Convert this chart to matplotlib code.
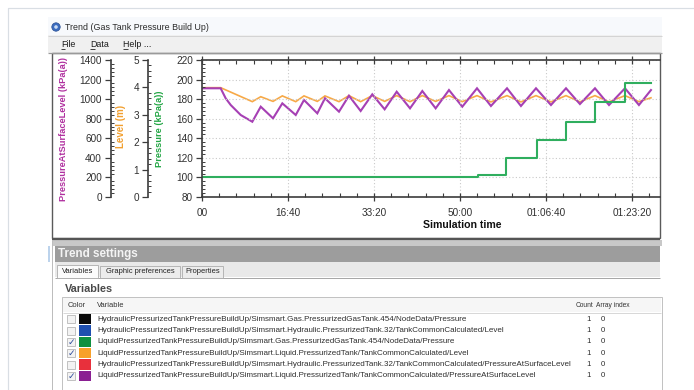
import matplotlib
matplotlib.use('Agg')
import matplotlib.pyplot as plt
from matplotlib.patches import Rectangle, Circle
from matplotlib.ticker import MultipleLocator

plt.rcParams['font.family'] = ['Liberation Sans', 'DejaVu Sans']

# ---------------- data ----------------
time_ticks = [0, 1000, 2000, 3000, 4000, 5000]
time_labels = ['00', '16:40', '33:20', '50:00', '01:06:40', '01:23:20']

# PressureAtSurfaceLevel (kPa(a)) - purple
t_psl = [0, 217, 275, 334, 450, 585, 683, 826, 934, 1090, 1186, 1341, 1430, 1593, 1709, 1845,
         1980, 2124, 2264, 2419, 2562, 2717, 2872, 3027, 3198, 3360, 3547, 3709, 3884, 4058,
         4233, 4395, 4570, 4733, 4919, 5081, 5221]
psl = [1111, 1111, 1009, 940, 838, 769, 923, 804, 957, 838, 991, 855, 1009, 872, 1035, 879,
       1049, 896, 1076, 906, 1083, 906, 1093, 923, 1111, 930, 1111, 930, 1111, 940,
       1111, 950, 1111, 940, 1111, 940, 1093]

# Level (m) - orange
t_lvl = [0, 217, 585, 683, 826, 934, 1090, 1186, 1341, 1430, 1593, 1709, 1845,
         1980, 2124, 2264, 2419, 2562, 2717, 2872, 3027, 3198, 3360, 3547, 3709, 3884, 4058,
         4233, 4395, 4570, 4733, 4919, 5081, 5221]
lvl = [3.99, 3.99, 3.48, 3.66, 3.49, 3.69, 3.48, 3.69, 3.49, 3.69, 3.48, 3.70, 3.48,
       3.70, 3.49, 3.70, 3.48, 3.70, 3.49, 3.70, 3.48, 3.70, 3.47, 3.70, 3.47, 3.70, 3.47,
       3.70, 3.47, 3.70, 3.47, 3.70, 3.48, 3.62]

# Gas tank pressure (kPa(a)) - green
t_gas = [0, 3209, 3535, 3895, 4233, 4570, 4919, 5221]
p_gas = [100, 102, 120, 138, 157, 177, 197, 197]

var_names = [
    'HydraulicPressurizedTankPressureBuildUp/Simsmart.Gas.PressurizedGasTank.454/NodeData/Pressure',
    'HydraulicPressurizedTankPressureBuildUp/Simsmart.Hydraulic.PressurizedTank.32/TankCommonCalculated/Level',
    'LiquidPressurizedTankPressureBuildUp/Simsmart.Gas.PressurizedGasTank.454/NodeData/Pressure',
    'LiquidPressurizedTankPressureBuildUp/Simsmart.Liquid.PressurizedTank/TankCommonCalculated/Level',
    'HydraulicPressurizedTankPressureBuildUp/Simsmart.Hydraulic.PressurizedTank.32/TankCommonCalculated/PressureAtSurfaceLevel',
    'LiquidPressurizedTankPressureBuildUp/Simsmart.Liquid.PressurizedTank/TankCommonCalculated/PressureAtSurfaceLevel',
]
var_colors = ['#0a0a0a', '#1f4fb0', '#0f9040', '#f7a12a', '#e8303c', '#8a1f92']
var_checked = [False, False, True, True, False, True]
var_count = [1, 1, 1, 1, 1, 1]
var_index = [0, 0, 0, 0, 0, 0]

C_PSL, C_LVL, C_GAS = '#a640b4', '#f7a947', '#2fae5e'
C_PSL_T, C_LVL_T, C_GAS_T = '#b0309f', '#f2a030', '#22a544'

# ---------------- figure ----------------
W, H = 694, 390
fig = plt.figure(figsize=(W / 100, H / 100), dpi=100)
fig.patch.set_facecolor('white')

ui = fig.add_axes([0, 0, 1, 1])
ui.set_xlim(0, W)
ui.set_ylim(H, 0)
ui.axis('off')
ui.set_zorder(0)

PX = 0.72  # points per pixel


def rect(x0, y0, x1, y1, fc, ec='none', lw=0, z=1):
    ui.add_patch(Rectangle((x0, y0), x1 - x0, y1 - y0, facecolor=fc, edgecolor=ec,
                           linewidth=lw * PX, zorder=z))


def line(xs, ys, c, lw=1, z=2):
    ui.plot(xs, ys, color=c, lw=lw * PX, solid_capstyle='butt', zorder=z)


def txt(x, y, s, size, c='#222222', **kw):
    ui.text(x, y, s, fontsize=size, color=c, va='center', **kw)


# outer frame
line([8, 8, W], [H, 8, 8], '#d9dee4', 1.2)

# title bar
rect(48, 17, 662, 35, '#f7f9fc')
ui.add_patch(Circle((56, 27), 4.2, facecolor='#3b6cc0', edgecolor='#2a4f90', lw=0.5, zorder=3))
ui.add_patch(Circle((56, 27), 1.8, facecolor='#c9dcf5', edgecolor='none', zorder=4))
txt(65, 27, 'Trend (Gas Tank Pressure Build Up)', 6.4, '#2a2a2a')

# menu bar
rect(48, 35, 662, 53, '#f0f0f0')
line([48, 662], [35.5, 35.5], '#d4d4d4', 1)
line([48, 662], [52.5, 52.5], '#9a9a9a', 1.2)
for mx, ms, uw in [(61, 'File', 4.2), (90, 'Data', 5.2), (123, 'Help ...', 5.2)]:
    txt(mx, 44.5, ms, 6.4, '#1a1a1a')
    line([mx, mx + uw], [49.3, 49.3], '#1a1a1a', 0.8)

# chart panel
rect(52, 53, 660, 238, 'white', '#5a5a5a', 1.4, z=1)
line([52, 660], [238.5, 238.5], '#555555', 2.2)

# separator + trend settings header
rect(52, 240, 662, 246, '#c8c8c8')
rect(55, 246, 660, 262, '#9d9d9d')
txt(58.5, 254, 'Trend settings', 8.4, '#f4f4f4', fontweight='bold')
rect(55, 262, 660, 277, '#e9e9e9')
line([55, 660], [277.5, 277.5], '#a8a8a8', 1)
rect(48, 246, 50, 262, '#bcd3ec')
line([52, 52], [240, H], '#bdbdbd', 1)

# tabs
for (x0, x1, lab, sel) in [(57, 98, 'Variables', True), (100, 180, 'Graphic preferences', False),
                           (182, 223, 'Properties', False)]:
    rect(x0, 264.5 if sel else 265.5, x1, 277.5, '#fbfbfb' if sel else '#ececec', '#a9a9a9', 0.8, z=3)
    txt((x0 + x1) / 2, 271.5, lab, 5.4, '#222222', ha='center', zorder=4)

txt(65, 289, 'Variables', 7.8, '#4a4a4a', fontweight='bold')

# table
rect(62, 297, 662, H + 2, 'white', '#c2c2c2', 1)
rect(63, 298, 661, 312, '#f6f6f6')
line([63, 661], [312.5, 312.5], '#d8d8d8', 1)
txt(68, 305.5, 'Color', 5.4, '#333333')
txt(97, 305.5, 'Variable', 5.4, '#333333')
txt(576, 305.5, 'Count', 4.8, '#333333')
txt(596, 305.5, 'Array index', 4.8, '#333333')

for i, (name, col, chk, cnt, idx) in enumerate(zip(var_names, var_colors, var_checked,
                                                   var_count, var_index)):
    y0 = 314 + 11.3 * i
    yc = y0 + 5.3
    rect(79.5, y0, 91, y0 + 10.4, col, z=3)
    rect(67, yc - 4, 75, yc + 4, '#f3f3f3', '#b5b5b5', 0.8, z=3)
    if chk:
        ui.text(71, yc + 0.3, '\u2713', fontsize=6.5, color='#2d4c9c', ha='center', va='center',
                family='DejaVu Sans', zorder=5)
    txt(97, yc, name, 5.8, '#2e2e2e')
    txt(589, yc, str(cnt), 5.6, '#2e2e2e', ha='center')
    txt(603, yc, str(idx), 5.6, '#2e2e2e', ha='center')

# ---------------- plot axes ----------------
PX0, PX1, PY0, PY1 = 202, 660, 60, 197


def fbox(x0, y0, x1, y1):
    return [x0 / W, 1 - y1 / H, (x1 - x0) / W, (y1 - y0) / H]


ax = fig.add_axes(fbox(PX0, PY0, PX1, PY1))
ax_psl = ax.twinx()
ax_lvl = ax.twinx()
ax_lvl.set_zorder(1)
ax_psl.set_zorder(2)
ax.set_zorder(3)
for a in (ax, ax_psl, ax_lvl):
    a.patch.set_visible(False)

SPC = '#3c3c3c'
TXC = '#303030'
FS = 7.2

ax.set_xlim(0, 5326)
ax.set_ylim(80, 220)
ax.set_xticks(time_ticks)
ax.set_xticklabels(time_labels)
ax.xaxis.set_minor_locator(MultipleLocator(200))
ax.set_yticks(range(80, 221, 20))
ax.yaxis.set_minor_locator(MultipleLocator(4))
ax.grid(True, which='major', color='#c9c9c9', linestyle=(0, (1, 2)), lw=0.8)
ax.spines['right'].set_visible(False)
for s in ('left', 'bottom', 'top'):
    ax.spines[s].set_color(SPC)
    ax.spines[s].set_linewidth(1.2)
ax.tick_params(axis='x', which='major', direction='inout', length=6, width=0.9, color=SPC,
               top=True, labelsize=FS, labelcolor=TXC, pad=5)
ax.tick_params(axis='x', which='minor', direction='in', length=3, width=0.8, color=SPC, top=True)
ax.tick_params(axis='y', which='major', direction='out', length=4, width=0.9, color=SPC,
               labelsize=FS, labelcolor=TXC, pad=2.5)
ax.tick_params(axis='y', which='minor', direction='in', length=2.5, width=0.7, color=SPC)

for a, frac, lo, hi, step, minor in [(ax_lvl, (148 - PX0) / (PX1 - PX0), 0, 5, 1, 0.2),
                                    (ax_psl, (111 - PX0) / (PX1 - PX0), 0, 1400, 200, 40)]:
    a.set_ylim(lo, hi)
    a.yaxis.tick_left()
    a.yaxis.set_label_position('left')
    a.spines['left'].set_position(('axes', frac))
    a.spines['left'].set_visible(True)
    a.spines['left'].set_color(SPC)
    a.spines['left'].set_linewidth(1.2)
    for s in ('right', 'top', 'bottom'):
        a.spines[s].set_visible(False)
    a.set_yticks([lo + k * step for k in range(int((hi - lo) / step) + 1)])
    a.yaxis.set_minor_locator(MultipleLocator(minor))
    a.tick_params(axis='y', which='major', direction='out', length=4, width=0.9, color=SPC,
                  labelsize=FS, labelcolor=TXC, pad=2.5)
    a.tick_params(axis='y', which='minor', direction='in', length=2.5, width=0.7, color=SPC)

ax_lvl.plot(t_lvl, lvl, color=C_LVL, lw=1.2, solid_joinstyle='miter')
ax_psl.plot(t_psl, psl, color=C_PSL, lw=1.5, solid_joinstyle='miter')
ax.plot(t_gas, p_gas, color=C_GAS, lw=1.5, drawstyle='steps-post')

# axis titles
txt(64, 129, 'PressureAtSurfaceLevel (kPa(a))', 6.7, C_PSL_T, rotation=90, ha='center',
    fontweight='bold')
txt(121, 126, 'Level (m)', 7.0, C_LVL_T, rotation=90, ha='center', fontweight='bold')
txt(160, 129, 'Pressure (kPa(a))', 6.7, C_GAS_T, rotation=90, ha='center', fontweight='bold')
txt(462, 225, 'Simulation time', 7.6, '#111111', ha='center', fontweight='bold')

fig.savefig('out.png', dpi=100)
